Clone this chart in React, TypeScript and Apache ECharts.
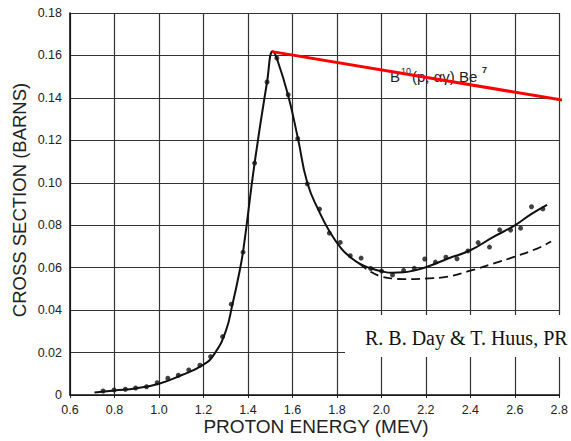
import React, { useEffect, useRef } from "react";
import * as echarts from "echarts";

const xTicks = [0.6, 2.8, 0.2];
const yTicks = [0, 0.18, 0.02];

// measured points (proton energy MeV, cross section barns)
const dotX = [0.749, 0.798, 0.849, 0.895, 0.944, 0.992, 1.04, 1.087, 1.134, 1.184, 1.232, 1.286, 1.325, 1.378, 1.43, 1.486, 1.53, 1.581, 1.624, 1.667, 1.722, 1.766, 1.815, 1.86, 1.909, 1.952, 2.001, 2.05, 2.1, 2.148, 2.195, 2.243, 2.29, 2.34, 2.389, 2.435, 2.486, 2.532, 2.581, 2.626, 2.675, 2.726];
const dotY = [0.0019, 0.0024, 0.0027, 0.0033, 0.0039, 0.0058, 0.0079, 0.0093, 0.0118, 0.014, 0.0181, 0.0275, 0.0428, 0.0673, 0.1093, 0.1475, 0.1588, 0.1415, 0.1208, 0.0995, 0.0876, 0.0763, 0.0719, 0.0656, 0.0645, 0.0596, 0.0584, 0.0566, 0.0587, 0.0597, 0.0641, 0.0626, 0.0649, 0.0642, 0.0679, 0.0718, 0.0697, 0.0778, 0.0777, 0.0786, 0.0887, 0.0877];

// solid fitted curve
const solidX = [0.71, 0.8, 0.9, 1.0, 1.1, 1.2, 1.25, 1.3, 1.33, 1.36, 1.38, 1.43, 1.486, 1.512, 1.53, 1.58, 1.625, 1.667, 1.72, 1.77, 1.82, 1.86, 1.9, 1.95, 2.0, 2.05, 2.1, 2.15, 2.2, 2.3, 2.4, 2.5, 2.6, 2.67, 2.745];
const solidY = [0.0012, 0.0021, 0.0032, 0.0053, 0.0093, 0.0143, 0.0195, 0.03, 0.0425, 0.057, 0.069, 0.1093, 0.1475, 0.162, 0.1585, 0.1415, 0.1208, 0.1, 0.0865, 0.0765, 0.069, 0.065, 0.062, 0.0598, 0.0583, 0.0576, 0.0578, 0.0588, 0.0602, 0.0643, 0.0682, 0.0743, 0.0799, 0.085, 0.0896];

// dashed curve
const dashX = [1.9, 1.95, 2.0, 2.05, 2.1, 2.2, 2.3, 2.4, 2.5, 2.6, 2.7, 2.763];
const dashY = [0.062, 0.0582, 0.0558, 0.0549, 0.0546, 0.0549, 0.0558, 0.0586, 0.0618, 0.0652, 0.069, 0.0723];

// red annotation line
const redX = [1.508, 2.84];
const redY = [0.1618, 0.1385];

const zip = (a: number[], b: number[]) => a.map((v, i) => [v, b[i]]);

export default function App() {
  const ref = useRef<HTMLDivElement>(null);
  useEffect(() => {
    if (!ref.current) return;
    const chart = echarts.init(ref.current, null, { renderer: "svg" });
    const sans = "'Liberation Sans', Arial, sans-serif";
    const gridLine = { show: true, lineStyle: { color: "#333", width: 1.2 } };
    chart.setOption({
      animation: false,
      backgroundColor: "#ffffff",
      grid: { left: 70, right: 9, top: 13, bottom: 46 },
      xAxis: {
        type: "value",
        min: xTicks[0],
        max: xTicks[1],
        interval: xTicks[2],
        axisLine: { show: true, onZero: false, lineStyle: { color: "#111", width: 1.6 } },
        axisTick: { show: true, length: 3, lineStyle: { color: "#222" } },
        axisLabel: {
          color: "#222",
          fontFamily: sans,
          fontSize: 12.5,
          margin: 8,
          formatter: (v: number) => v.toFixed(1),
        },
        splitLine: gridLine,
      },
      yAxis: {
        type: "value",
        min: yTicks[0],
        max: yTicks[1],
        interval: yTicks[2],
        axisLine: { show: true, lineStyle: { color: "#111", width: 1.6 } },
        axisTick: { show: false },
        axisLabel: {
          color: "#222",
          fontFamily: sans,
          fontSize: 12.5,
          margin: 8,
          formatter: (v: number) => (Math.abs(v) < 1e-9 ? "0" : v.toFixed(2)),
        },
        splitLine: gridLine,
      },
      series: [
        {
          type: "line",
          data: zip(solidX, solidY),
          smooth: 0.5,
          symbol: "none",
          lineStyle: { color: "#111", width: 2 },
          z: 3,
        },
        {
          type: "line",
          data: zip(dashX, dashY),
          smooth: 0.5,
          symbol: "none",
          lineStyle: { color: "#111", width: 1.8, type: [9, 5] },
          z: 3,
        },
        {
          type: "scatter",
          data: zip(dotX, dotY),
          symbol: "circle",
          symbolSize: 5,
          itemStyle: { color: "#111" },
          z: 4,
        },
        {
          type: "line",
          data: zip(redX, redY),
          clip: false,
          symbol: "none",
          lineStyle: { color: "#ff0000", width: 3 },
          z: 10,
        },
      ],
      graphic: [
        {
          type: "rect",
          shape: { x: 345, y: 315, width: 226, height: 42 },
          style: { fill: "#ffffff" },
          z: 100,
        },
        {
          type: "text",
          x: 365,
          y: 338,
          z: 101,
          style: {
            text: "R. B. Day & T. Huus, PR",
            font: "20px 'Liberation Serif', 'Times New Roman', serif",
            fill: "#111",
            textVerticalAlign: "middle",
          },
        },
        {
          type: "text",
          x: 390,
          y: 84,
          z: 5,
          style: { text: "B", font: "15px " + sans, fill: "#222", textVerticalAlign: "bottom" },
        },
        {
          type: "text",
          x: 401,
          y: 75,
          z: 5,
          style: { text: "10", font: "9px " + sans, fill: "#222", textVerticalAlign: "bottom" },
        },
        {
          type: "text",
          x: 412,
          y: 84,
          z: 5,
          style: { text: "(p, αγ) Be", font: "15px " + sans, fill: "#222", textVerticalAlign: "bottom" },
        },
        {
          type: "text",
          x: 482,
          y: 74,
          z: 5,
          style: { text: "7", font: "bold 9px " + sans, fill: "#222", textVerticalAlign: "bottom" },
        },
        {
          type: "text",
          x: 316,
          y: 426,
          z: 101,
          style: {
            text: "PROTON ENERGY (MEV)",
            font: "19px " + sans,
            fill: "#222",
            textAlign: "center",
            textVerticalAlign: "middle",
          },
        },
        {
          type: "text",
          x: 19,
          y: 200,
          rotation: Math.PI / 2,
          z: 101,
          style: {
            text: "CROSS SECTION (BARNS)",
            font: "18.5px " + sans,
            fill: "#222",
            textAlign: "center",
            textVerticalAlign: "middle",
          },
        },
      ],
    });
    return () => chart.dispose();
  }, []);
  return (
    <div
      ref={ref}
      style={{ position: "fixed", left: 0, top: 0, width: 571, height: 441, background: "#fff" }}
    />
  );
}
